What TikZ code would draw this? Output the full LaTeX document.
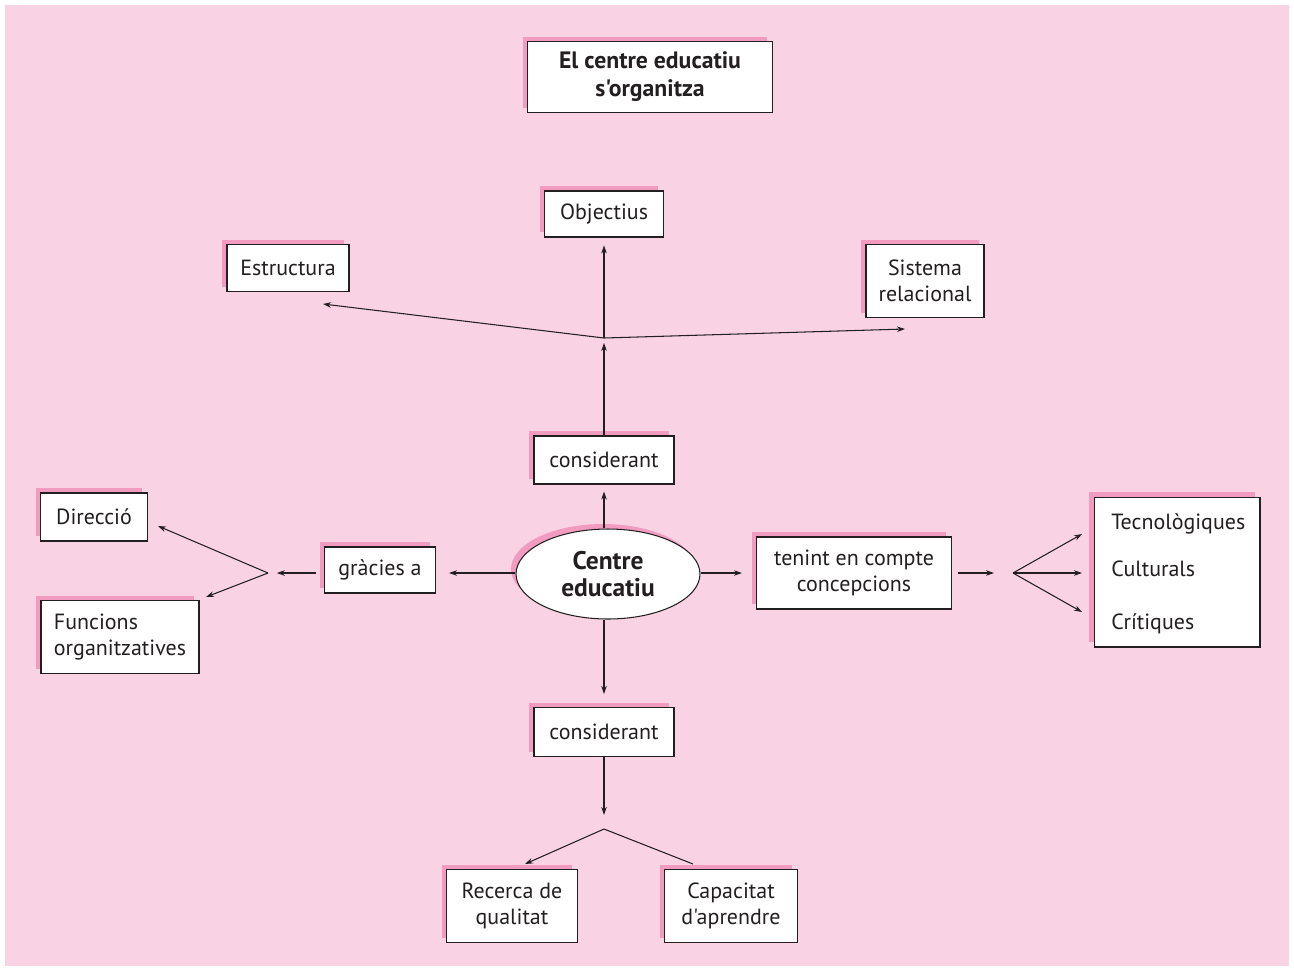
\documentclass[tikz,border=0pt]{standalone}
\usepackage{fontspec}
\setmainfont{PT Sans}[Ligatures=TeXOff]
\usetikzlibrary{shapes.geometric,shadows,arrows.meta}
\definecolor{fons}{HTML}{F9D3E4}
\definecolor{ombra}{HTML}{F29BC1}
\definecolor{tinta}{HTML}{231F20}

\begin{document}
\begin{tikzpicture}[x=0.02cm, y=-0.02cm,
  caixa/.style={draw=tinta, fill=white, line width=0.6pt, text=tinta, align=center, inner sep=0pt,
    drop shadow={shadow xshift=-0.1cm, shadow yshift=0.1cm, fill=ombra, opacity=1},
    font=\fontsize{12.5}{15}\selectfont},
  negreta/.style={font=\fontsize{13.5}{16}\selectfont\bfseries},
  fletxa/.style={draw=tinta, line width=0.6pt, -{Stealth[length=1.6mm, width=1.1mm]}},
  linia/.style={draw=tinta, line width=0.6pt}]
\useasboundingbox[fill=white] (0,0) rectangle (1294,971);
\fill[fons] (5,5) rectangle (1289,966);

% caixes
\node[caixa, negreta, minimum width=4.9cm, minimum height=1.42cm] (titol) at (650,77) {El centre educatiu\\s'organitza};
\node[caixa, minimum width=2.38cm, minimum height=0.92cm] (objectius) at (604,214) {Objectius};
\node[caixa, minimum width=2.44cm, minimum height=0.94cm] (estructura) at (288,268) {Estructura};
\node[caixa, minimum width=2.36cm, minimum height=1.46cm] (sistema) at (925,281) {Sistema\\relacional};
\node[caixa, minimum width=2.8cm, minimum height=0.96cm] (cons1) at (604,460) {considerant};
\node[caixa, ellipse, font=\fontsize{14.5}{15.5}\selectfont\bfseries, minimum width=3.68cm, minimum height=1.8cm] (centre) at (608,574) {Centre\\educatiu};
\node[caixa, minimum width=2.22cm, minimum height=0.92cm] (gracies) at (380,570) {gràcies a};
\node[caixa, minimum width=2.14cm, minimum height=0.96cm] (direccio) at (94,517) {Direcció};
\node[caixa, align=left, minimum width=3.16cm, minimum height=1.46cm] (funcions) at (120,637) {Funcions\\organitzatives};
\node[caixa, minimum width=3.9cm, minimum height=1.44cm] (tenint) at (854,573) {tenint en compte\\concepcions};
\node[caixa, minimum width=3.32cm, minimum height=3cm] (concep) at (1177,572) {};
\node[caixa, minimum width=2.8cm, minimum height=0.98cm] (cons2) at (604,732) {considerant};
\node[caixa, minimum width=2.62cm, minimum height=1.46cm] (recerca) at (512,906) {Recerca de\\qualitat};
\node[caixa, minimum width=2.66cm, minimum height=1.46cm] (capacitat) at (731,906) {Capacitat\\d'aprendre};

% textos de la caixa gran
\begin{scope}[every node/.style={anchor=west, inner sep=0pt, text=tinta, font=\fontsize{12.5}{15}\selectfont}]
\node (tecno) at (1111,524) {Tecnològiques};
\node (cultu) at (1111,569) {Culturals};
\node (criti) at (1111,624) {Crítiques};
\end{scope}

% punts de bifurcacio
\coordinate (dalt) at (604,338);
\coordinate (esq) at (268,573);
\coordinate (dreta) at (1013,573);
\coordinate (baix) at (604,829);
\coordinate (aEstructura) at (323,304);
\coordinate (aSistema) at (905,329);
\coordinate (aDireccio) at (158,526);
\coordinate (aFuncions) at (206,597);
\coordinate (aTecno) at (1082,534);
\coordinate (aCultu) at (1082,573);
\coordinate (aCriti) at (1082,612);
\coordinate (aRecerca) at (525,864);
\coordinate (aCapacitat) at (693,864);

% connectors
\draw[fletxa, shorten >=4pt] (cons1.south |- centre.north) -- (cons1.south);
\draw[fletxa, shorten >=2.8pt] (cons1.north) -- (dalt);
\draw[fletxa, shorten >=4.5pt] (dalt) -- (objectius.south);
\draw[fletxa] (dalt) -- (aEstructura);
\draw[fletxa] (dalt) -- (aSistema);

\draw[fletxa, shorten >=7.4pt] (centre.west |- esq) -- (gracies.east |- esq);
\draw[fletxa, shorten <=4.5pt, shorten >=5pt] (gracies.west |- esq) -- (esq);
\draw[fletxa] (esq) -- (aDireccio);
\draw[fletxa] (esq) -- (aFuncions);

\draw[fletxa, shorten >=8pt] (centre.east |- dreta) -- (tenint.west |- dreta);
\draw[fletxa, shorten <=3.4pt, shorten >=10.8pt] (tenint.east |- dreta) -- (dreta);
\draw[fletxa] (dreta) -- (aTecno);
\draw[fletxa] (dreta) -- (aCultu);
\draw[fletxa] (dreta) -- (aCriti);

\draw[fletxa, shorten >=7.4pt] (cons2.north |- centre.south) -- (cons2.north);
\draw[fletxa, shorten >=8pt] (cons2.south) -- (baix);
\draw[fletxa] (baix) -- (aRecerca);
\draw[linia] (baix) -- (aCapacitat);
\end{tikzpicture}
\end{document}
